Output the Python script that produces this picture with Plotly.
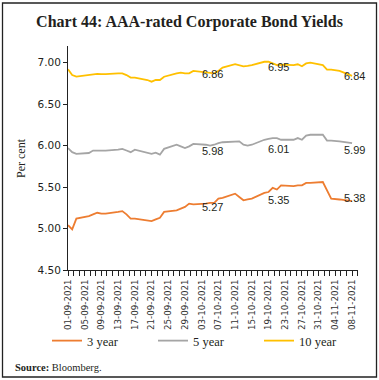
import plotly.graph_objects as go

dates = [
    "2021-09-01", "2021-09-02", "2021-09-03",
    "2021-09-06", "2021-09-07", "2021-09-08", "2021-09-09", "2021-09-10",
    "2021-09-13", "2021-09-14", "2021-09-15", "2021-09-16", "2021-09-17",
    "2021-09-20", "2021-09-21", "2021-09-22", "2021-09-23", "2021-09-24",
    "2021-09-27", "2021-09-28", "2021-09-29", "2021-09-30", "2021-10-01",
    "2021-10-04", "2021-10-05", "2021-10-06", "2021-10-07", "2021-10-08",
    "2021-10-11", "2021-10-12", "2021-10-13", "2021-10-14", "2021-10-15",
    "2021-10-18", "2021-10-19", "2021-10-20", "2021-10-21", "2021-10-22",
    "2021-10-25", "2021-10-26", "2021-10-27", "2021-10-28", "2021-10-29",
    "2021-11-01", "2021-11-02", "2021-11-03", "2021-11-05", "2021-11-08",
]

yield_3y = [
    5.04, 4.99, 5.12,
    5.15, 5.17, 5.19, 5.18, 5.18,
    5.20, 5.21, 5.17, 5.12, 5.12,
    5.10, 5.09, 5.11, 5.13, 5.20,
    5.22, 5.24, 5.26, 5.30, 5.29,
    5.30, 5.31, 5.31, 5.36, 5.37,
    5.42, 5.38, 5.34, 5.35, 5.36,
    5.43, 5.44, 5.49, 5.47, 5.52,
    5.51, 5.52, 5.52, 5.55, 5.55,
    5.56, 5.46, 5.36, 5.35, 5.33,
]

yield_5y = [
    5.97, 5.92, 5.90,
    5.91, 5.94, 5.94, 5.94, 5.94,
    5.95, 5.96, 5.94, 5.92, 5.95,
    5.91, 5.90, 5.915, 5.89, 5.96,
    6.01, 5.99, 5.97, 5.99, 6.02,
    6.01, 6.00, 6.01, 6.03, 6.04,
    6.05, 6.05, 6.01, 6.00, 6.01,
    6.07, 6.08, 6.09, 6.09, 6.07,
    6.07, 6.09, 6.07, 6.12, 6.13,
    6.13, 6.06, 6.06, 6.05, 6.03,
]

yield_10y = [
    6.92, 6.85, 6.83,
    6.85, 6.86, 6.865, 6.86, 6.86,
    6.87, 6.87, 6.85, 6.82, 6.82,
    6.79, 6.77, 6.79, 6.79, 6.83,
    6.87, 6.88, 6.87, 6.87, 6.90,
    6.88, 6.87, 6.87, 6.90, 6.94,
    6.98, 6.97, 6.955, 6.96, 6.97,
    7.01, 7.01, 6.99, 6.97, 6.975,
    6.97, 6.98, 6.955, 6.99, 7.00,
    6.97, 6.915, 6.915, 6.90, 6.84,
]

series_names = ["3 year", "5 year", "10 year"]
series_colors = ["#ED7D31", "#A5A5A5", "#FFC000"]

label_dates = ["2021-10-05", "2021-10-21", "2021-11-08"]
labels_3y = [5.27, 5.35, 5.38]
labels_5y = [5.98, 6.01, 5.99]
labels_10y = [6.86, 6.95, 6.84]

tick_dates = [
    "2021-09-01", "2021-09-05", "2021-09-09", "2021-09-13", "2021-09-17",
    "2021-09-21", "2021-09-25", "2021-09-29", "2021-10-03", "2021-10-07",
    "2021-10-11", "2021-10-15", "2021-10-19", "2021-10-23", "2021-10-27",
    "2021-10-31", "2021-11-04", "2021-11-08",
]
tick_text = [d[8:10] + "-" + d[5:7] + "-" + d[0:4] for d in tick_dates]

fig = go.Figure()
for name, vals, col in zip(series_names, [yield_3y, yield_5y, yield_10y], series_colors):
    fig.add_trace(go.Scatter(x=dates, y=vals, mode="lines", name=name,
                             line=dict(color=col, width=1.8)))

# data labels
for vals, yshift in [(labels_3y, -1), (labels_5y, -4), (labels_10y, 0)]:
    for d, v in zip(label_dates, vals):
        fig.add_annotation(x=d, y=v, text=f"{v:.2f}", showarrow=False,
                           xref="x", yref="y", yshift=yshift, xshift=2,
                           xanchor="center", yanchor="middle",
                           font=dict(family="Liberation Sans", size=11, color="#231f20"))

L, R, T, B = 68, 21, 46, 110
W, H = 379, 380
pw, ph = W - L - R, H - T - B

def px_x(px):
    return (px - L) / pw

def px_y(py):
    return (H - B - py) / ph

fig.add_annotation(x=px_x(21), y=0.5, xref="paper", yref="paper", text="Per cent",
                   textangle=-90, showarrow=False, xanchor="center", yanchor="middle",
                   font=dict(family="Liberation Serif", size=12, color="#231f20"))

fig.add_annotation(x=px_x(13), y=px_y(367), xref="paper", yref="paper",
                   xanchor="left", yanchor="middle", showarrow=False,
                   text="<b>Source:</b> Bloomberg.",
                   font=dict(family="Liberation Serif", size=10.5, color="#231f20"))

fig.add_shape(type="rect", xref="paper", yref="paper", layer="above",
              x0=px_x(2.5), x1=px_x(376.5), y0=px_y(377), y1=px_y(3),
              line=dict(color="#222222", width=1.3), fillcolor="rgba(0,0,0,0)")

fig.update_layout(
    width=W, height=H,
    margin=dict(l=L, r=R, t=T, b=B, autoexpand=False),
    paper_bgcolor="white", plot_bgcolor="white",
    title=dict(text="<b>Chart 44: AAA-rated Corporate Bond Yields</b>",
               x=0.5, xref="container", y=1 - 21 / H, yref="container",
               xanchor="center", yanchor="middle",
               font=dict(family="Liberation Serif", size=16, color="#231f20")),
    showlegend=True,
    legend=dict(orientation="h", x=px_x(47), y=px_y(341), xanchor="left", yanchor="middle",
                entrywidth=61, entrywidthmode="pixels",
                font=dict(family="Liberation Serif", size=12.5, color="#231f20"),
                bgcolor="rgba(0,0,0,0)"),
    xaxis=dict(type="date", range=["2021-09-01", "2021-11-09 10:00"],
               tickmode="array", tickvals=tick_dates, ticktext=tick_text,
               tickangle=-90, ticks="outside", ticklen=5, tickcolor="#222",
               showline=True, linecolor="#222", linewidth=1, showgrid=False,
               zeroline=False,
               minor=dict(ticks="outside", ticklen=5, tickcolor="#222",
                          dtick=115200000, tick0="2021-09-01", showgrid=False),
               tickfont=dict(family="DejaVu Sans", size=8.7, color="#333333")),
    yaxis=dict(range=[4.5, 7.2], dtick=0.5, tick0=4.5, tickformat=".2f",
               ticks="outside", ticklen=4, tickcolor="#222",
               showline=True, linecolor="#222", linewidth=1, showgrid=False,
               zeroline=False,
               tickfont=dict(family="DejaVu Sans", size=10.5, color="#231f20")),
)

fig.write_html("out.html", config={"displayModeBar": False},
               post_script="document.body.style.margin='0';")
